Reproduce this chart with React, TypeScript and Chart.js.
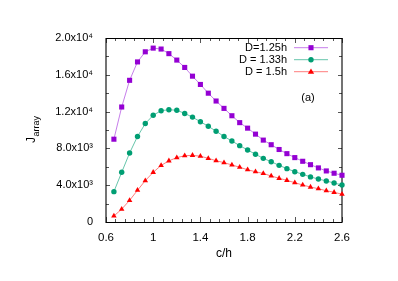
import React, { useEffect, useRef } from 'react';
import { Chart, registerables } from 'chart.js';

Chart.register(...registerables);

const cOverH = [0.667, 0.733, 0.8, 0.867, 0.933, 1.0, 1.067, 1.133, 1.2, 1.267, 1.333, 1.4, 1.467, 1.533, 1.6, 1.667, 1.733, 1.8, 1.867, 1.933, 2.0, 2.067, 2.133, 2.2, 2.267, 2.333, 2.4, 2.467, 2.533, 2.6];
const jD125 = [9000, 12500, 15400, 17400, 18500, 18900, 18800, 18300, 17600, 16800, 15850, 14950, 14000, 13150, 12350, 11550, 10800, 10200, 9550, 8900, 8400, 7880, 7430, 7000, 6600, 6230, 5880, 5550, 5300, 5080];
const jD133 = [3300, 5400, 7500, 9300, 10700, 11600, 12100, 12200, 12150, 11800, 11400, 10900, 10400, 9870, 9300, 8800, 8300, 7830, 7360, 6920, 6550, 6160, 5800, 5470, 5180, 4900, 4670, 4460, 4240, 4020];
const jD150 = [650, 1400, 2350, 3450, 4500, 5400, 6150, 6650, 7000, 7200, 7250, 7150, 6920, 6660, 6450, 6200, 5950, 5680, 5460, 5280, 5000, 4750, 4530, 4270, 4020, 3800, 3620, 3400, 3230, 3020];
const seriesLabels = ['D=1.25h', 'D = 1.33h', 'D = 1.5h'];
const xTickValues = [0.6, 1.0, 1.4, 1.8, 2.2, 2.6];
const xTickLabels = ['0.6', '1', '1.4', '1.8', '2.2', '2.6'];
const yTickValues = [0, 4000, 8000, 12000, 16000, 20000];
const yTickLabels = ['0', '4.0x10\u00B3', '8.0x10\u00B3', '1.2x10\u2074', '1.6x10\u2074', '2.0x10\u2074'];
const xTitle = 'c/h';
const yTitleMain = 'J';
const yTitleSub = 'array';
const panelLabel = '(a)';

const FONT = '"Liberation Sans", Arial, Helvetica, sans-serif';
const markerColors = ['#9400d3', '#009e73', '#ff0000'];
const lineColors = ['rgba(160,40,220,0.6)', 'rgba(0,158,115,0.6)', 'rgba(255,40,40,0.6)'];
const markerStyles = ['rect', 'circle', 'triangle'];
const markerRadius = [3.6, 2.7, 3.2];

function drawMarker(ctx: CanvasRenderingContext2D, style: string, x: number, y: number, r: number, color: string) {
  ctx.save();
  ctx.fillStyle = color;
  ctx.beginPath();
  if (style === 'rect') {
    const s = Math.SQRT1_2 * r;
    ctx.rect(x - s, y - s, 2 * s, 2 * s);
  } else if (style === 'circle') {
    ctx.arc(x, y, r, 0, Math.PI * 2);
  } else {
    const a = r * 1.0;
    ctx.moveTo(x, y - a);
    ctx.lineTo(x + a * 0.866 * 1.15, y + a * 0.5 + 0.5);
    ctx.lineTo(x - a * 0.866 * 1.15, y + a * 0.5 + 0.5);
    ctx.closePath();
  }
  ctx.fill();
  ctx.restore();
}

const framePlugin = {
  id: 'frameTicks',
  beforeDatasetsDraw(chart: any) {
    const { ctx, chartArea } = chart;
    const xs = chart.scales.x;
    const ys = chart.scales.y;
    const { left, right, top, bottom } = chartArea;
    ctx.save();
    ctx.strokeStyle = '#000';
    ctx.lineWidth = 1;
    // ticks
    ctx.beginPath();
    for (let i = 0; i < xTickValues.length; i++) {
      const v0 = xTickValues[i];
      const px = Math.round(xs.getPixelForValue(v0)) + 0.5;
      ctx.moveTo(px, bottom); ctx.lineTo(px, bottom - 5);
      ctx.moveTo(px, top); ctx.lineTo(px, top + 5);
      if (i < xTickValues.length - 1) {
        const step = (xTickValues[i + 1] - v0) / 5;
        for (let k = 1; k < 5; k++) {
          const mx = Math.round(xs.getPixelForValue(v0 + k * step)) + 0.5;
          ctx.moveTo(mx, bottom); ctx.lineTo(mx, bottom - 3);
          ctx.moveTo(mx, top); ctx.lineTo(mx, top + 3);
        }
      }
    }
    for (let i = 0; i < yTickValues.length; i++) {
      const v0 = yTickValues[i];
      const py = Math.round(ys.getPixelForValue(v0)) + 0.5;
      ctx.moveTo(left, py); ctx.lineTo(left + 4, py);
      ctx.moveTo(right, py); ctx.lineTo(right - 4, py);
      if (i < yTickValues.length - 1) {
        const my = Math.round(ys.getPixelForValue((v0 + yTickValues[i + 1]) / 2)) + 0.5;
        ctx.moveTo(left, my); ctx.lineTo(left + 3, my);
        ctx.moveTo(right, my); ctx.lineTo(right - 3, my);
      }
    }
    ctx.strokeStyle = '#555';
    ctx.stroke();
    // frame
    ctx.beginPath();
    ctx.strokeStyle = '#000';
    ctx.moveTo(left, Math.round(top) + 0.5); ctx.lineTo(right, Math.round(top) + 0.5);
    ctx.moveTo(left, Math.round(bottom) + 0.5); ctx.lineTo(right, Math.round(bottom) + 0.5);
    ctx.stroke();
    ctx.beginPath();
    ctx.strokeStyle = 'rgba(0,0,0,0.55)';
    ctx.lineWidth = 2;
    ctx.moveTo(Math.round(left), top); ctx.lineTo(Math.round(left), bottom + 1);
    ctx.moveTo(Math.round(right), top); ctx.lineTo(Math.round(right), bottom + 1);
    ctx.stroke();
    ctx.restore();
  },
  afterDraw(chart: any) {
    const { ctx, chartArea } = chart;
    ctx.save();
    ctx.fillStyle = '#000';
    // x title
    ctx.font = `12px ${FONT}`;
    ctx.textAlign = 'center';
    ctx.textBaseline = 'alphabetic';
    ctx.fillText(xTitle, (chartArea.left + chartArea.right) / 2, 257);
    // y title rotated
    ctx.save();
    ctx.translate(35, 143);
    ctx.rotate(-Math.PI / 2);
    ctx.textAlign = 'left';
    ctx.font = `12px ${FONT}`;
    ctx.fillText(yTitleMain, 0, 0);
    const jw = ctx.measureText(yTitleMain).width;
    ctx.font = `9px ${FONT}`;
    ctx.fillText(yTitleSub, jw + 0.5, 4);
    ctx.restore();
    // legend
    const rowsY = [47.7, 59.7, 71.7];
    ctx.font = `11px ${FONT}`;
    ctx.textAlign = 'right';
    ctx.textBaseline = 'middle';
    for (let i = 0; i < seriesLabels.length; i++) {
      const y = rowsY[i];
      ctx.fillStyle = '#000';
      ctx.fillText(seriesLabels[i], 287, y + 0.5);
      ctx.beginPath();
      ctx.strokeStyle = lineColors[i];
      ctx.lineWidth = 1;
      ctx.moveTo(294, y); ctx.lineTo(328, y);
      ctx.stroke();
      drawMarker(ctx, markerStyles[i], 311, y, markerRadius[i], markerColors[i]);
    }
    // panel label
    ctx.fillStyle = '#000';
    ctx.textAlign = 'center';
    ctx.textBaseline = 'middle';
    ctx.font = `11px ${FONT}`;
    ctx.fillText(panelLabel, 308, 98);
    ctx.restore();
  },
};

export default function App() {
  const ref = useRef<HTMLCanvasElement | null>(null);
  useEffect(() => {
    document.body.style.margin = '0';
    const canvas = ref.current;
    if (!canvas) return;
    const seriesValues = [jD125, jD133, jD150];
    const chart = new Chart(canvas, {
      type: 'line',
      data: {
        datasets: seriesValues.map((vals, i) => ({
          label: seriesLabels[i],
          data: vals.map((v, k) => ({ x: cOverH[k], y: v })),
          borderColor: lineColors[i],
          backgroundColor: markerColors[i],
          borderWidth: 1,
          pointStyle: markerStyles[i] as any,
          pointRadius: markerRadius[i],
          pointBorderWidth: 0,
          pointBackgroundColor: markerColors[i],
          pointBorderColor: markerColors[i],
          tension: 0,
          fill: false,
          clip: false as any,
        })),
      },
      options: {
        animation: false,
        responsive: false,
        maintainAspectRatio: false,
        devicePixelRatio: 1,
        layout: { padding: { left: 0, top: 38, right: 56, bottom: 0 } },
        plugins: {
          legend: { display: false },
          tooltip: { enabled: false },
          title: { display: false },
        },
        scales: {
          x: {
            type: 'linear',
            min: 0.6,
            max: 2.6,
            grid: { display: false, drawTicks: false },
            border: { display: false },
            afterBuildTicks: (s: any) => { s.ticks = xTickValues.map((v) => ({ value: v })); },
            afterFit: (s: any) => { s.height = 59; },
            ticks: {
              padding: 9,
              color: '#000',
              font: { family: FONT, size: 11.5 },
              maxRotation: 0,
              callback: (_v: any, i: number) => xTickLabels[i],
            },
          },
          y: {
            type: 'linear',
            min: 0,
            max: 20000,
            grid: { display: false, drawTicks: false },
            border: { display: false },
            afterBuildTicks: (s: any) => { s.ticks = yTickValues.map((v) => ({ value: v })); },
            afterFit: (s: any) => { s.width = 106; },
            ticks: {
              padding: 13,
              color: '#000',
              font: { family: FONT, size: 11 },
              callback: (_v: any, i: number) => yTickLabels[i],
            },
          },
        },
      },
      plugins: [framePlugin],
    });
    return () => chart.destroy();
  }, []);
  return (
    <div style={{ width: 398, height: 281 }}>
      <canvas ref={ref} width={398} height={281} style={{ display: 'block', width: 398, height: 281 }} />
    </div>
  );
}
